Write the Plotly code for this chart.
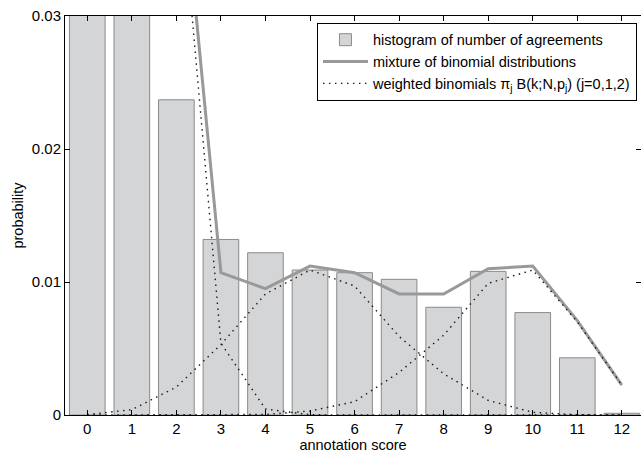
import plotly.graph_objects as go

scores = list(range(13))
histogram = [0.52, 0.368, 0.0237, 0.0132, 0.0122, 0.0109, 0.0107, 0.0102,
             0.0081, 0.0108, 0.0077, 0.0043, 0.00013]
mixture = [0.50, 0.34, 0.0455, 0.0107, 0.0095, 0.0112, 0.0107, 0.0091,
           0.0091, 0.0110, 0.0112, 0.0071, 0.00225]
binom_j0 = [0.50, 0.3396, 0.0434, 0.0054, 0.00045, 0.00002, 0.0, 0.0,
            0.0, 0.0, 0.0, 0.0, 0.0]
binom_j1 = [0.00003, 0.0004, 0.0021, 0.0053, 0.0091, 0.0109, 0.0097, 0.0059,
            0.0031, 0.0011, 0.0002, 0.00002, 0.0]
binom_j2 = [0.0, 0.0, 0.0, 0.0, 0.00004, 0.0003, 0.0010, 0.0032,
            0.0060, 0.0099, 0.0109, 0.0070, 0.00225]

y_ticks = [0, 0.01, 0.02, 0.03]
y_tick_labels = ["0", "0.01", "0.02", "0.03"]

fig = go.Figure()
fig.add_trace(go.Bar(
    x=scores, y=histogram, width=0.8,
    marker=dict(color="#d4d5d7", line=dict(color="#8a8a8a", width=1)),
    name="histogram of number of agreements",
))
fig.add_trace(go.Scatter(
    x=scores, y=mixture, mode="lines",
    line=dict(color="#999999", width=3),
    name="mixture of binomial distributions",
))
for i, series in enumerate([binom_j0, binom_j1, binom_j2]):
    fig.add_trace(go.Scatter(
        x=scores, y=series, mode="lines",
        line=dict(color="#1a1a1a", width=1.4, dash="1.5px,4.5px"),
        name="weighted binomials π<sub>j</sub> B(k;N,p<sub>j</sub>) (j=0,1,2)",
        showlegend=(i == 0),
    ))

fig.update_layout(
    width=641, height=453,
    margin=dict(l=65, r=0, t=16, b=38),
    paper_bgcolor="white", plot_bgcolor="white",
    font=dict(family="Liberation Sans, Arial, sans-serif", size=14, color="black"),
    bargap=0.2,
    showlegend=True,
    legend=dict(
        x=0.993, xanchor="right", y=0.983, yanchor="top",
        bgcolor="white", bordercolor="black", borderwidth=1,
        font=dict(size=14.5), tracegroupgap=0, itemwidth=45,
    ),
    xaxis=dict(
        range=[-0.5, 12.43],
        tickmode="array", tickvals=scores,
        ticks="inside", ticklen=5, tickcolor="black",
        showline=True, linecolor="black", linewidth=1, mirror="ticks",
        showgrid=False, zeroline=False,
        tickfont=dict(size=15),
        title=dict(text="annotation score", font=dict(size=14.5), standoff=0),
    ),
    yaxis=dict(
        range=[0, 0.03],
        tickmode="array", tickvals=y_ticks, ticktext=y_tick_labels,
        ticks="inside", ticklen=5, tickcolor="black",
        showline=True, linecolor="black", linewidth=1, mirror="ticks",
        showgrid=False, zeroline=False,
        tickfont=dict(size=15),
        title=dict(text="probability", font=dict(size=14.5), standoff=4),
    ),
)

fig.write_html("out.html")
